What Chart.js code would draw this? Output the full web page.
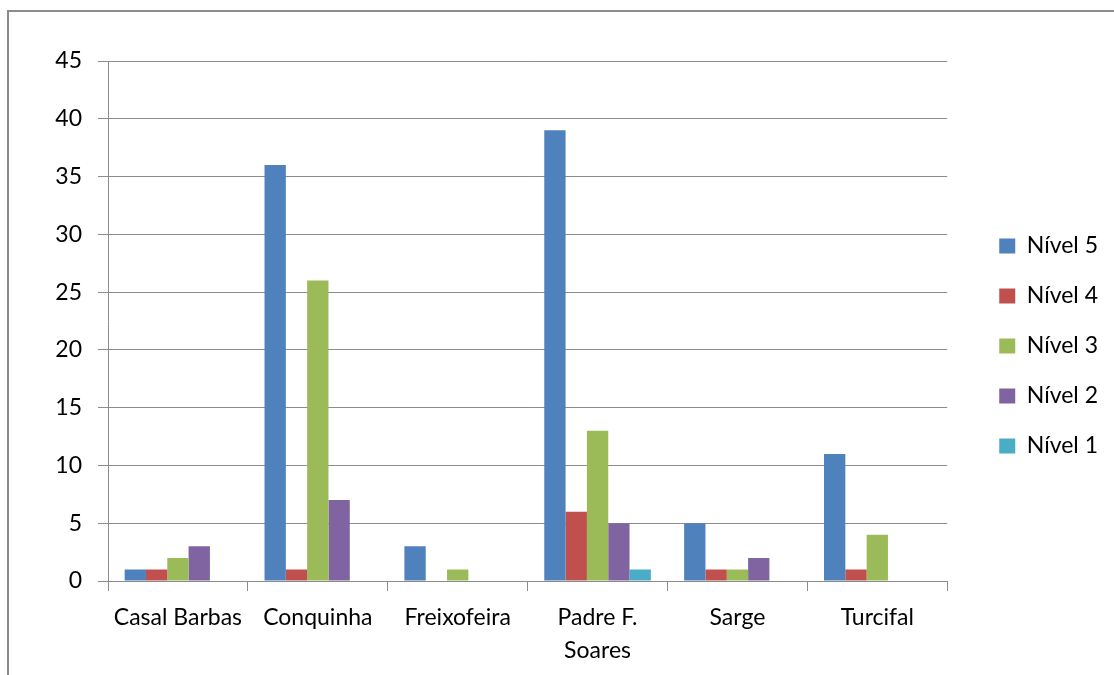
<!DOCTYPE html>
<html>
<head>
    <meta charset="utf-8">
    <title>Níveis por escola</title>
    <script src="https://cdn.jsdelivr.net/npm/chart.js"></script>
    <style>
        body { margin: 0; background: #fff; }
        #wrap { position: relative; width: 1114px; height: 675px; overflow: hidden; }
        #frame { position: absolute; left: 7px; top: 10px; width: 1200px; height: 800px;
                 border-top: 2px solid #8c8c8c; border-left: 2px solid #8c8c8c; pointer-events: none; }
    </style>
</head>
<body>
    <div id="wrap">
        <canvas id="myChart" width="1114" height="675"></canvas>
        <div id="frame"></div>
    </div>

    <script>
        // dados
        const escolas = ['Casal Barbas', 'Conquinha', 'Freixofeira', ['Padre F.', 'Soares'], 'Sarge', 'Turcifal'];
        const nivel5 = [1, 36, 3, 39, 5, 11];
        const nivel4 = [1, 1, 0, 6, 1, 1];
        const nivel3 = [2, 26, 1, 13, 1, 4];
        const nivel2 = [3, 7, 0, 5, 2, 0];
        const nivel1 = [0, 0, 0, 1, 0, 0];

        const nomes = ['Nível 5', 'Nível 4', 'Nível 3', 'Nível 2', 'Nível 1'];
        const cores = ['#4F81BD', '#C0504D', '#9BBB59', '#8064A2', '#4BACC6'];
        const series = [nivel5, nivel4, nivel3, nivel2, nivel1];

        const fonte = 'Lato, "Liberation Sans", sans-serif';
        const cinza = '#8c8c8c';

        // posiciona a legenda como no Excel (mais à direita, centrada em y=346)
        const legendShift = {
            id: 'legendShift',
            afterLayout(chart) {
                const lg = chart.legend;
                lg.left += 25;
                lg.right += 25;
                lg.top = 61;
                lg.bottom = 631;
                lg.height = 570;
            }
        };

        const ctx = document.getElementById('myChart').getContext('2d');
        new Chart(ctx, {
            type: 'bar',
            data: {
                labels: escolas,
                datasets: series.map((s, i) => ({
                    label: nomes[i],
                    data: s,
                    backgroundColor: cores[i],
                    borderWidth: 0,
                    categoryPercentage: 0.762,
                    barPercentage: 1
                }))
            },
            plugins: [legendShift],
            options: {
                responsive: false,
                animation: false,
                layout: { padding: { top: 61, bottom: 8, left: 8, right: 31 } },
                plugins: {
                    tooltip: { enabled: false },
                    legend: {
                        position: 'right',
                        labels: {
                            boxWidth: 16,
                            boxHeight: 15,
                            padding: 27,
                            color: '#000',
                            font: { family: fonte, size: 23 }
                        }
                    }
                },
                scales: {
                    x: {
                        grid: { display: true, drawOnChartArea: false, offset: true, tickLength: 10, color: cinza },
                        border: { color: cinza },
                        ticks: { color: '#000', padding: 10, maxRotation: 0, font: { family: fonte, size: 23, lineHeight: 1.43 } },
                        afterFit(scale) { scale.height = 86; }
                    },
                    y: {
                        min: 0,
                        max: 45,
                        grid: { color: cinza, tickLength: 10 },
                        border: { color: cinza },
                        ticks: { stepSize: 5, color: '#000', padding: 16, font: { family: fonte, size: 23 } },
                        afterFit(scale) { scale.width = 100; }
                    }
                }
            }
        });
    </script>
</body>
</html>
